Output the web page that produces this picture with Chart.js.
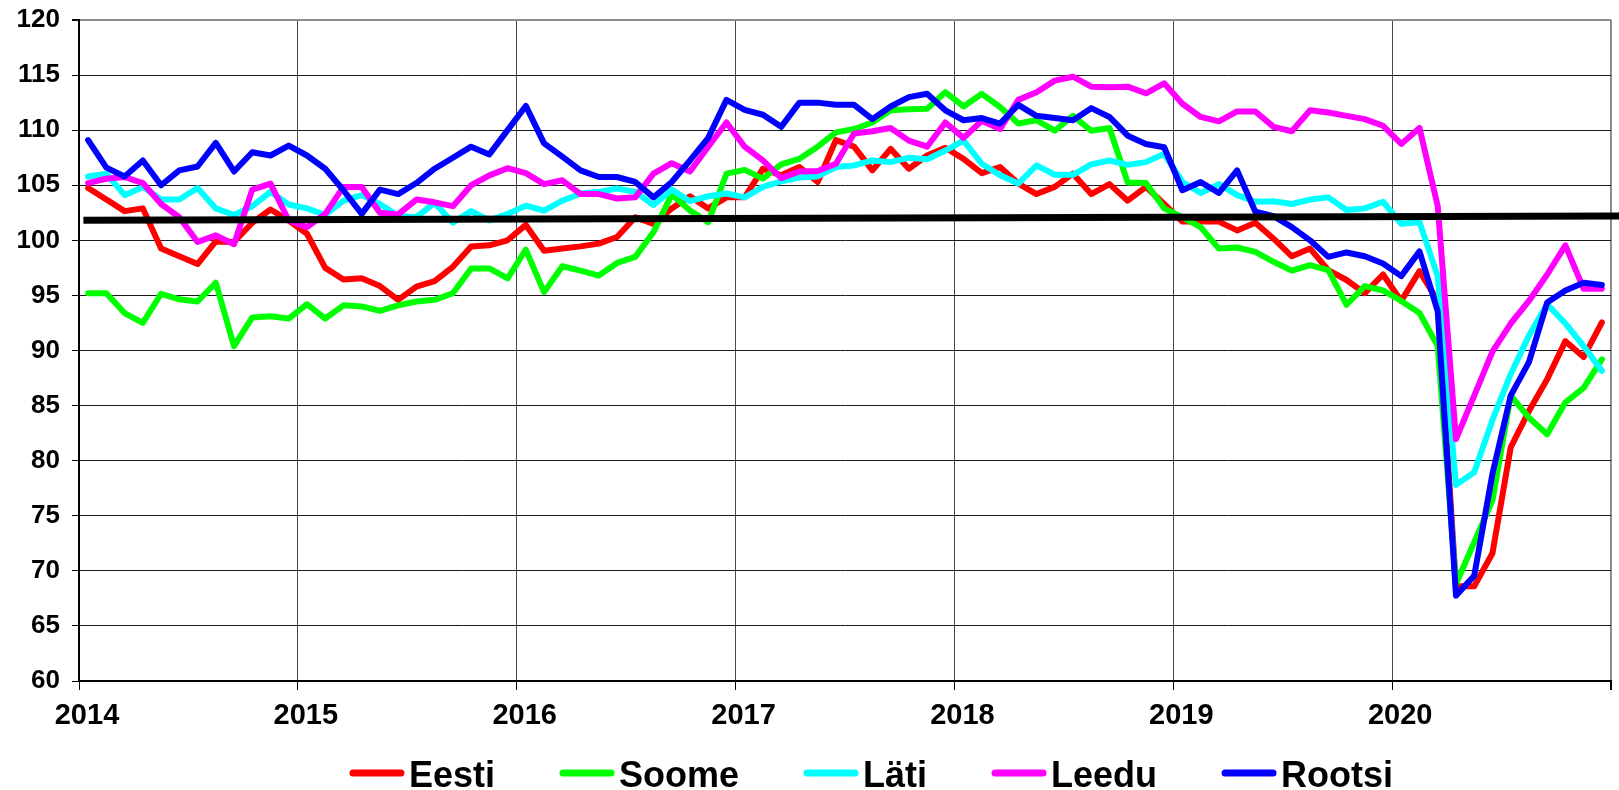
<!DOCTYPE html>
<html><head><meta charset="utf-8">
<script src="https://cdn.jsdelivr.net/npm/chart.js@4.4.1/dist/chart.umd.min.js"></script>
<style>html,body{margin:0;padding:0;background:#fff;overflow:hidden}#wrap{width:1619px;height:790px}</style>
</head><body><div id="wrap"><canvas id="c" width="1619" height="790"></canvas></div>
<script>
const startYear = 2014;
const endYear = 2021;
const yearLabels = [2014, 2015, 2016, 2017, 2018, 2019, 2020];
const seriesNames = ['Eesti', 'Soome', 'Läti', 'Leedu', 'Rootsi'];
const seriesColors = ['#ff0000', '#00ff00', '#00ffff', '#ff00ff', '#0000ff'];

// monthly values Jan 2014 .. Dec 2020
const eesti = [104.75,103.7,102.65,102.9,99.25,98.55,97.85,99.9,99.85,101.6,102.8,101.8,
  100.6,97.5,96.45,96.55,95.85,94.6,95.8,96.3,97.6,99.45,99.55,100.0,
  101.4,99.05,99.25,99.45,99.7,100.3,102.1,101.5,102.9,104.0,102.9,103.9,
  103.9,106.5,105.9,106.65,105.3,109.1,108.5,106.35,108.3,106.5,107.7,108.4,
  107.4,106.1,106.65,105.15,104.2,104.85,106.05,104.2,105.1,103.6,104.85,103.3,
  101.7,101.7,101.7,100.9,101.6,100.15,98.55,99.25,97.3,96.4,95.2,96.9,
  94.5,97.2,94.5,68.6,68.6,71.6,81.2,84.5,87.4,90.85,89.4,92.55];
const soome = [95.2,95.2,93.4,92.5,95.15,94.65,94.45,96.15,90.4,93.0,93.1,92.9,
  94.2,92.9,94.1,94.0,93.6,94.1,94.45,94.6,95.2,97.45,97.45,96.55,
  99.15,95.3,97.65,97.25,96.8,97.95,98.5,100.75,104.15,102.7,101.65,106.05,
  106.4,105.6,106.9,107.4,108.5,109.8,110.1,110.7,111.8,111.9,111.95,113.45,
  112.15,113.3,112.1,110.6,110.9,109.95,111.3,109.95,110.2,105.25,105.2,102.9,
  102.1,101.2,99.25,99.35,98.95,98.05,97.25,97.75,97.3,94.15,95.85,95.45,
  94.5,93.4,90.4,68.8,72.6,76.4,85.9,83.9,82.4,85.3,86.6,89.2];
const lati = [105.8,106.05,104.1,104.85,103.7,103.7,104.75,102.9,102.3,103.1,104.4,103.25,
  102.9,102.3,103.6,104.1,103.3,102.2,102.1,103.4,101.6,102.65,101.8,102.4,
  103.15,102.7,103.6,104.25,104.4,104.7,104.4,103.2,104.6,103.55,104.0,104.25,
  103.9,104.85,105.35,105.7,105.8,106.65,106.8,107.25,107.1,107.5,107.35,108.15,
  109.05,106.95,105.9,105.15,106.8,105.95,105.95,106.9,107.25,106.85,107.1,107.85,
  105.3,104.3,105.1,104.1,103.5,103.55,103.3,103.7,103.9,102.75,102.9,103.5,
  101.5,101.65,96.75,77.8,78.95,83.7,87.85,91.35,94.2,92.45,90.4,88.15];
const leedu = [105.2,105.6,105.75,105.2,103.3,102.1,99.85,100.45,99.65,104.6,105.15,101.8,
  101.2,102.4,104.85,104.85,102.5,102.35,103.7,103.45,103.1,105.0,105.9,106.55,
  106.1,105.1,105.45,104.2,104.2,103.8,103.9,106.05,107.0,106.25,108.5,110.7,
  108.5,107.25,105.65,106.25,106.3,106.95,109.7,109.9,110.2,109.05,108.5,110.7,
  109.3,110.85,110.1,112.75,113.45,114.5,114.85,113.95,113.9,113.95,113.35,114.25,
  112.4,111.2,110.8,111.7,111.7,110.3,109.9,111.8,111.6,111.3,111.0,110.4,
  108.75,110.2,103.1,81.95,85.9,89.9,92.45,94.5,96.9,99.55,95.6,95.6];
const rootsi = [109.1,106.6,105.8,107.25,105.0,106.35,106.7,108.85,106.25,108.0,107.7,108.6,
  107.7,106.5,104.55,102.4,104.6,104.2,105.2,106.5,107.5,108.5,107.8,110.0,
  112.2,108.8,107.6,106.35,105.75,105.75,105.3,103.9,105.3,107.25,109.3,112.75,
  111.85,111.4,110.3,112.5,112.5,112.3,112.3,111.0,112.15,113.0,113.3,111.8,
  110.9,111.1,110.6,112.3,111.3,111.1,110.9,112.0,111.2,109.5,108.75,108.45,
  104.55,105.3,104.3,106.35,102.6,102.2,101.2,100.0,98.5,98.9,98.55,97.9,
  96.75,99.0,93.55,67.75,69.55,78.8,85.9,88.95,94.35,95.45,96.15,95.95];
// black trend line (start, end)
const trendX = [2014.02, 2021.04];
const trendY = [101.82, 102.2];

const seriesValues = [eesti, soome, lati, leedu, rootsi];
const toPoints = arr => arr.map((v, i) => ({x: startYear + (i + 0.5) / 12, y: v}));

const datasets = seriesNames.map((name, k) => ({
  label: name,
  data: toPoints(seriesValues[k]),
  borderColor: seriesColors[k],
  backgroundColor: seriesColors[k],
  borderWidth: 6,
  pointRadius: 0,
  tension: 0,
  borderJoinStyle: 'round',
  borderCapStyle: 'round',
  order: 5 - k
}));
datasets.push({
  label: 'trend',
  data: trendX.map((x, i) => ({x, y: trendY[i]})),
  borderColor: '#000',
  borderWidth: 7,
  pointRadius: 0,
  order: 0,
  clip: {left: 0, top: 0, right: 10, bottom: 0}
});

const FONT = '"Liberation Sans", Arial, sans-serif';

const customLegend = {
  id: 'customLegend',
  afterDraw(chart) {
    const ctx = chart.ctx;
    ctx.save();
    ctx.font = 'bold 36px ' + FONT;
    const lineLen = 54, gapText = 5, gapItem = 65;
    const widths = seriesNames.map(n => ctx.measureText(n).width);
    let total = 0;
    widths.forEach((w, i) => { total += lineLen + gapText + w + (i < widths.length - 1 ? gapItem : 0); });
    let x = 871.5 - total / 2;
    const ly = 773, ty = 787;
    seriesNames.forEach((n, i) => {
      ctx.strokeStyle = seriesColors[i];
      ctx.lineWidth = 7;
      ctx.lineCap = 'round';
      ctx.beginPath();
      ctx.moveTo(x + 3, ly);
      ctx.lineTo(x + lineLen - 3, ly);
      ctx.stroke();
      ctx.fillStyle = '#000';
      ctx.textBaseline = 'alphabetic';
      ctx.textAlign = 'left';
      ctx.fillText(n, x + lineLen + gapText, ty);
      x += lineLen + gapText + widths[i] + gapItem;
    });
    ctx.restore();
  }
};

new Chart(document.getElementById('c'), {
  type: 'line',
  data: {datasets},
  options: {
    responsive: false,
    animation: false,
    devicePixelRatio: 1,
    layout: {padding: {top: 20, right: 8, left: 0, bottom: 0}},
    plugins: {legend: {display: false}, title: {display: false}, tooltip: {enabled: false}},
    scales: {
      x: {
        type: 'linear',
        min: startYear,
        max: endYear,
        afterFit: s => { s.height = 109; s.paddingLeft = 0; s.paddingRight = 0; },
        afterBuildTicks: s => { s.ticks = yearLabels.concat([endYear]).map(v => ({value: v})); },
        ticks: {
          stepSize: 1,
          autoSkip: false,
          maxRotation: 0,
          labelOffset: 8,
          padding: 9,
          color: '#000',
          font: {family: FONT, size: 29, weight: 'bold'},
          callback: v => (yearLabels.includes(v) ? String(v) : '')
        },
        grid: {
          color: c => (c.tick && c.tick.value === endYear ? '#8c8c8c' : '#4a4a4a'),
          lineWidth: c => (c.tick && c.tick.value === endYear ? 2 : 1),
          tickLength: 9,
          tickColor: '#000'
        },
        border: {color: '#000', width: 2}
      },
      y: {
        min: 60,
        max: 120,
        afterFit: s => { s.width = 79; s.paddingTop = 0; s.paddingBottom = 0; },
        ticks: {
          stepSize: 5,
          padding: 12,
          color: '#000',
          font: {family: FONT, size: 26, weight: 'bold'}
        },
        grid: {
          color: c => (c.tick && c.tick.value === 120 ? '#8c8c8c' : '#1a1a1a'),
          lineWidth: c => (c.tick && c.tick.value === 120 ? 2 : 1),
          tickLength: 7,
          tickColor: '#000'
        },
        border: {color: '#000', width: 2}
      }
    }
  },
  plugins: [customLegend]
});
</script></body></html>
